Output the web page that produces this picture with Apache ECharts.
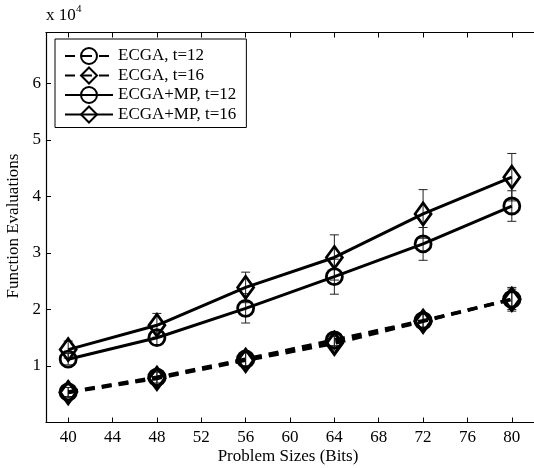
<html lang="en">
<head>
    <meta charset="UTF-8">
    <title>Function Evaluations</title>
    <style>
        html, body { margin: 0; padding: 0; background: #fff; }
        #echart { width: 534px; height: 468px; }
    </style>
</head>
<body>
<div id="echart"></div>
<script src="https://cdn.jsdelivr.net/npm/echarts@6/dist/echarts.min.js"></script>
<script>
    // problem sizes (bits) and x tick labels
    const sizes = [40, 48, 56, 64, 72, 80]
    const xTicks = [40, 44, 48, 52, 56, 60, 64, 68, 72, 76, 80]

    // function evaluations
    const ecga12 = [5400, 8000, 11200, 14600, 18000, 21800]
    const ecga16 = [5300, 7800, 11000, 14000, 17900, 21800]
    const mp12 = [11200, 15000, 20200, 25800, 31600, 38300]
    const mp16 = [12900, 17200, 23900, 29200, 36900, 43400]

    // error bar half lengths
    const ecga12Err = [800, 1000, 1200, 1000, 1100, 2100]
    const ecga16Err = [900, 1100, 1300, 1200, 1200, 1800]
    const mp12Err = [1000, 1200, 2600, 3100, 2900, 2700]
    const mp16Err = [1500, 2100, 2700, 4000, 4300, 4200]

    const font = 'Liberation Serif, Times New Roman, serif'

    const echart = echarts.init(document.getElementById('echart'))

    const pairs = vals => sizes.map((x, i) => [x, vals[i]])
    const errData = (vals, errs) => sizes.map((x, i) => [x, vals[i], errs[i]])

    // vertical error bar with small caps
    function errorBar(params, api) {
        const x = api.value(0), y = api.value(1), e = api.value(2)
        const hi = api.coord([x, y + e])
        const lo = api.coord([x, y - e])
        const w = 4.5
        const st = { stroke: '#222', lineWidth: 1 }
        return {
            type: 'group',
            children: [
                { type: 'line', shape: { x1: hi[0], y1: hi[1], x2: lo[0], y2: lo[1] }, style: st },
                { type: 'line', shape: { x1: hi[0] - w, y1: hi[1], x2: hi[0] + w, y2: hi[1] }, style: st },
                { type: 'line', shape: { x1: lo[0] - w, y1: lo[1], x2: lo[0] + w, y2: lo[1] }, style: st }
            ]
        }
    }

    function errSeries(vals, errs) {
        return {
            type: 'custom',
            renderItem: errorBar,
            data: errData(vals, errs),
            encode: { x: 0, y: 1 },
            z: 1,
            silent: true
        }
    }

    function lineSeries(name, vals, dashed, symbol, size) {
        return {
            name: name,
            type: 'line',
            data: pairs(vals),
            symbol: symbol,
            symbolSize: size,
            showSymbol: true,
            z: 3,
            lineStyle: dashed
                ? { color: '#000', width: 3.5, type: [10, 7] }
                : { color: '#000', width: 3 },
            itemStyle: { color: 'transparent', borderColor: '#000', borderWidth: dashed ? 3.2 : 2.8 },
            emphasis: { disabled: true }
        }
    }

    const axisCommon = {
        type: 'value',
        min: 38,
        max: 82,
        axisLine: { show: true, lineStyle: { color: '#000', width: 1.2 } },
        axisTick: { show: true, inside: true, length: 5, customValues: xTicks, lineStyle: { color: '#000' } },
        splitLine: { show: false }
    }

    echart.setOption({
        animation: false,
        backgroundColor: '#fff',
        grid: { left: 46, top: 32.5, bottom: 45.5, right: -7.5, containLabel: false },
        xAxis: [
            Object.assign({}, axisCommon, {
                position: 'bottom',
                axisLabel: {
                    customValues: xTicks, margin: 7,
                    color: '#000', fontFamily: font, fontSize: 17
                }
            }),
            Object.assign({}, axisCommon, {
                position: 'top',
                axisLabel: { show: false }
            })
        ],
        yAxis: {
            type: 'value',
            min: 0,
            max: 69000,
            interval: 10000,
            axisLine: { show: true, lineStyle: { color: '#000', width: 1.2 } },
            axisTick: { show: true, inside: true, length: 5, lineStyle: { color: '#000' } },
            splitLine: { show: false },
            axisLabel: {
                margin: 5,
                color: '#000', fontFamily: font, fontSize: 17,
                showMaxLabel: false,
                formatter: v => (v > 0 && v % 10000 === 0) ? String(v / 10000) : ''
            }
        },
        legend: {
            orient: 'vertical',
            left: 55,
            top: 39,
            data: ['ECGA, t=12', 'ECGA, t=16', 'ECGA+MP, t=12', 'ECGA+MP, t=16'],
            itemWidth: 48,
            itemHeight: 20,
            itemGap: 1.5,
            padding: [8, 10, 4, 9],
            borderColor: '#000',
            borderWidth: 1,
            borderRadius: 0,
            backgroundColor: '#fff',
            selectedMode: false,
            textStyle: { color: '#000', fontFamily: font, fontSize: 17 }
        },
        graphic: [
            {
                type: 'text', left: 46, top: 7,
                style: { text: 'x 10', fill: '#000', font: '17px ' + font }
            },
            {
                type: 'text', left: 76, top: 4,
                style: { text: '4', fill: '#000', font: '11px ' + font }
            },
            {
                type: 'text', x: 14, y: 226, rotation: Math.PI / 2,
                style: {
                    text: 'Function Evaluations', fill: '#000', font: '17px ' + font,
                    align: 'center', verticalAlign: 'middle'
                }
            },
            {
                type: 'text', x: 288, y: 457,
                style: {
                    text: 'Problem Sizes (Bits)', fill: '#000', font: '17px ' + font,
                    align: 'center', verticalAlign: 'middle'
                }
            }
        ],
        series: [
            errSeries(ecga12, ecga12Err),
            errSeries(ecga16, ecga16Err),
            errSeries(mp12, mp12Err),
            errSeries(mp16, mp16Err),
            lineSeries('ECGA, t=12', ecga12, true, 'circle', 16),
            lineSeries('ECGA, t=16', ecga16, true, 'diamond', [16, 22]),
            lineSeries('ECGA+MP, t=12', mp12, false, 'circle', 16),
            lineSeries('ECGA+MP, t=16', mp16, false, 'diamond', [16, 22])
        ]
    })
</script>
</body>
</html>
